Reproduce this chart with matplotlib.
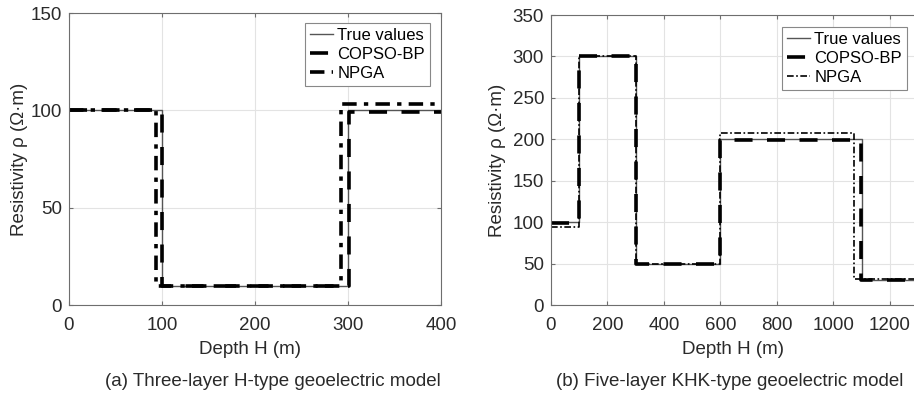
import matplotlib
matplotlib.use("Agg")
import matplotlib.pyplot as plt

plt.rcParams['font.family'] = ['Liberation Sans', 'DejaVu Sans']

# (a) Three-layer H-type model
depth_a_true = [0, 100, 300, 400]
rho_a_true = [100, 10, 100, 100]
depth_a_copso = [0, 100, 301, 400]
rho_a_copso = [100, 10, 99.3, 99.3]
depth_a_npga = [0, 94, 292, 400]
rho_a_npga = [100, 9.8, 103.5, 103.5]

# (b) Five-layer KHK-type model
depth_b_true = [0, 100, 300, 600, 1100, 1300]
rho_b_true = [100, 300, 50, 200, 30, 30]
depth_b_copso = [0, 100, 300, 600, 1097, 1300]
rho_b_copso = [99, 300, 50, 199, 30, 30]
depth_b_npga = [0, 100, 300, 600, 1072, 1300]
rho_b_npga = [94, 300, 50, 207, 31, 31]

labels = ['True values', 'COPSO-BP', 'NPGA']

W, H = 914, 399
fig = plt.figure(figsize=(W / 100, H / 100), dpi=100)

def px_axes(l, t, r, b):
    return fig.add_axes([l / W, 1 - b / H, (r - l) / W, (b - t) / H])

ax1 = px_axes(69, 13, 441, 305)
ax2 = px_axes(551, 15, 918, 305)

FS = 13.5
txt_c = '#2a2a2a'
spine_c = '#6e6e6e'
for ax in (ax1, ax2):
    ax.grid(True, color='#e3e3e3', lw=0.8)
    ax.set_axisbelow(True)
    for s in ax.spines.values():
        s.set_color(spine_c)
        s.set_linewidth(0.8)
    ax.tick_params(direction='in', length=3, color=spine_c, labelsize=FS,
                   top=True, right=True, labelcolor=txt_c)
    ax.tick_params(axis='y', pad=5)
    ax.tick_params(axis='x', pad=9)

# Left
ax1.plot(depth_a_true, rho_a_true, drawstyle='steps-post', color='#555555', lw=1.0, label=labels[0])
ax1.plot(depth_a_copso, rho_a_copso, drawstyle='steps-post', color='black', lw=2.6,
         dashes=(5, 4), label=labels[1])
ax1.plot(depth_a_npga, rho_a_npga, drawstyle='steps-post', color='black', lw=2.6,
         dashes=(4, 2, 1.2, 2), label=labels[2])
ax1.set_xlim(0, 400)
ax1.set_ylim(0, 150)
ax1.set_xticks([0, 100, 200, 300, 400])
ax1.set_yticks([0, 50, 100, 150])
ax1.set_xlabel('Depth H (m)', fontsize=FS, color=txt_c)
ax1.set_ylabel('Resistivity ρ (Ω·m)', fontsize=FS, color=txt_c)
ax1.xaxis.set_label_coords((250 - 69) / 372, (305 - 350) / 292)
ax1.xaxis.label.set_va('center')
ax1.yaxis.set_label_coords((20 - 69) / 372, 0.5)
ax1.yaxis.label.set_va('center')
leg1 = ax1.legend(loc='upper right', bbox_to_anchor=((430 - 69) / 372, 1 - 10 / 292),
                  fontsize=12, handlelength=1.4, handletextpad=0.25,
                  borderpad=0.3, labelspacing=0.25, fancybox=False, framealpha=1,
                  edgecolor='#888888', borderaxespad=0.0)
leg1.get_frame().set_linewidth(0.8)

# Right
ax2.plot(depth_b_true, rho_b_true, drawstyle='steps-post', color='#555555', lw=1.0, label=labels[0])
ax2.plot(depth_b_copso, rho_b_copso, drawstyle='steps-post', color='black', lw=2.6,
         dashes=(5, 4), label=labels[1])
ax2.plot(depth_b_npga, rho_b_npga, drawstyle='steps-post', color='black', lw=1.2,
         dashes=(4, 1.5, 1, 1.5), label=labels[2])
ax2.set_xlim(0, 1300)
ax2.set_ylim(0, 350)
ax2.set_xticks([0, 200, 400, 600, 800, 1000, 1200])
ax2.set_yticks([0, 50, 100, 150, 200, 250, 300, 350])
ax2.set_xlabel('Depth H (m)', fontsize=FS, color=txt_c)
ax2.set_ylabel('Resistivity ρ (Ω·m)', fontsize=FS, color=txt_c)
ax2.xaxis.set_label_coords((733 - 551) / 367, (305 - 350) / 290)
ax2.xaxis.label.set_va('center')
ax2.yaxis.set_label_coords((498 - 551) / 367, 0.5)
ax2.yaxis.label.set_va('center')
leg2 = ax2.legend(loc='upper right', bbox_to_anchor=((907 - 551) / 367, 1 - 12 / 290),
                  fontsize=12, handlelength=1.4, handletextpad=0.25,
                  borderpad=0.3, labelspacing=0.25, fancybox=False, framealpha=1,
                  edgecolor='#888888', borderaxespad=0.0)
leg2.get_frame().set_linewidth(0.8)

fig.text(273 / W, 1 - 381 / H, '(a) Three-layer H-type geoelectric model',
         ha='center', va='center', fontsize=FS, color=txt_c)
fig.text(730 / W, 1 - 381 / H, '(b) Five-layer KHK-type geoelectric model',
         ha='center', va='center', fontsize=FS, color=txt_c)

fig.savefig('out.png', dpi=100)
